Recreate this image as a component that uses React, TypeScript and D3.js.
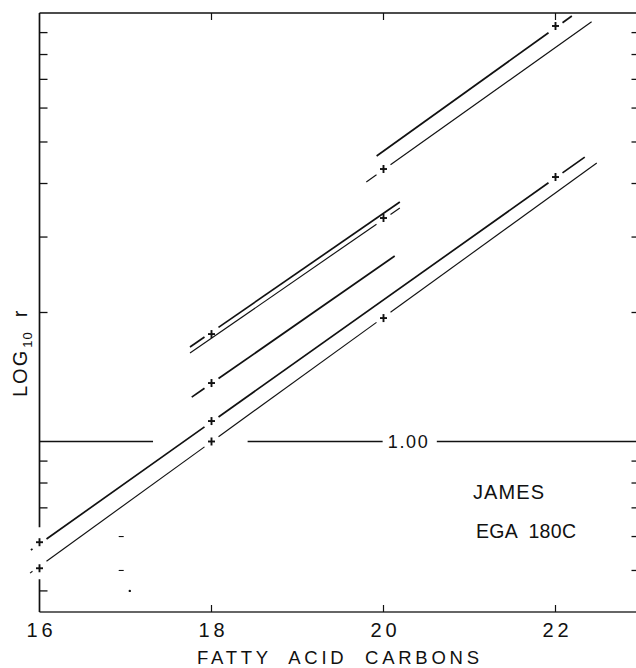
import React from "react";
import * as d3 from "d3";

// ---------- data ----------
const xTickValues = [16, 18, 20, 22];
const xTickLabels = ["16", "18", "20", "22"];
const xAxisTitle = "FATTY  ACID  CARBONS";
const yAxisTitleMain = "LOG";
const yAxisTitleSub = "10";
const yAxisTitleVar = "r";
const yTicksAbove = [2, 3, 4, 5, 6, 7, 8, 9];
const yTicksLeftBelow = [0.9, 0.8, 0.7, 0.448];
const yTicksRightBelow = [0.9, 0.8, 0.7, 0.6, 0.5];
const leftAxisGap = [0.477, 0.631];
const strayTickCarbon = 16.95;
const strayTickR = [0.6, 0.5];
const strayDot = [17.05, 0.448];
const refValue = 1.0;
const refLabel = "1.00";
const refLabelCarbon = 20.05;
const refSegments = [
  [16, 17.32],
  [18.42, 19.99],
  [20.62, 23],
];
const annotationLines = ["JAMES", "EGA  180C"];

// "+" data points
const pointCarbons = [16, 16, 18, 18, 18, 18, 20, 20, 20, 22, 22];
const pointR = [0.582, 0.506, 1.116, 1.0, 1.369, 1.781, 1.941, 3.323, 4.324, 4.142, 9.326];

// fitted lines (start / end in data units), with breaks where a "+" sits on them
const lineStartCarbons = [15.9, 15.89, 17.77, 17.75, 17.75, 19.92, 19.8];
const lineStartR = [0.558, 0.493, 1.269, 1.661, 1.608, 4.636, 4.033];
const lineEndCarbons = [22.34, 22.48, 20.13, 20.19, 20.19, 22.19, 22.42];
const lineEndR = [4.61, 4.467, 2.709, 3.622, 3.506, 9.84, 9.54];
const lineBreaksAt = [[16, 18, 22], [16, 18, 20], [18], [18], [20], [22], [20]];
const lineHeavy = [true, false, true, true, false, true, false];

// ---------- layout ----------
const W = 636;
const H = 668;
const FONT = "'Liberation Sans', Arial, sans-serif";
const INK = "#111";

export default function App() {
  const x = d3.scaleLinear().domain([16, 23]).range([39.5, 641.5]);
  const y = d3.scaleLog().domain([0.4, 10]).range([612, 13]);
  const [x0, x1] = x.range();
  const [yBot, yTop] = y.range();

  const segs: { a: [number, number]; b: [number, number]; heavy: boolean }[] = [];
  lineStartCarbons.forEach((c0, i) => {
    const px0 = x(c0);
    const py0 = y(lineStartR[i]);
    const px1 = x(lineEndCarbons[i]);
    const py1 = y(lineEndR[i]);
    const yAt = (px: number) => py0 + ((py1 - py0) * (px - px0)) / (px1 - px0);
    const cuts = lineBreaksAt[i].map((c) => x(c)).sort((a, b) => a - b);
    let start = px0;
    cuts.forEach((cx) => {
      const e = Math.max(start, cx - 7);
      if (e > start) segs.push({ a: [start, yAt(start)], b: [e, yAt(e)], heavy: lineHeavy[i] });
      start = Math.max(start, cx + 7);
    });
    if (px1 > start) segs.push({ a: [start, yAt(start)], b: [px1, yAt(px1)], heavy: lineHeavy[i] });
  });

  const tickLen = 8;
  const refY = y(refValue);

  return (
    <svg
      width={W}
      height={H}
      viewBox={`0 0 ${W} ${H}`}
      style={{ position: "absolute", left: 0, top: 0, background: "#fff" }}
    >
      <rect x={0} y={0} width={W} height={H} fill="#fff" />
      {/* frame */}
      <line x1={x0} x2={x1} y1={yTop} y2={yTop} stroke={INK} strokeWidth={1.5} />
      <line x1={x0} x2={x1} y1={yBot} y2={yBot} stroke="#333" strokeWidth={1.5} />
      <line x1={x0} x2={x0} y1={yTop} y2={y(leftAxisGap[1])} stroke={INK} strokeWidth={1.7} />
      <line x1={x0} x2={x0} y1={y(leftAxisGap[0])} y2={yBot} stroke={INK} strokeWidth={1.7} />

      {/* y ticks */}
      {[...yTicksAbove, ...yTicksLeftBelow].map((v, i) => (
        <line key={"yl" + i} x1={x0} x2={x0 + tickLen} y1={y(v)} y2={y(v)} stroke={INK} strokeWidth={1.3} />
      ))}
      {[...yTicksAbove, ...yTicksRightBelow].map((v, i) => (
        <line key={"yr" + i} x1={x1} x2={x1 - tickLen - 2} y1={y(v)} y2={y(v)} stroke={INK} strokeWidth={1.3} />
      ))}
      {strayTickR.map((v, i) => (
        <line key={"st" + i} x1={x(strayTickCarbon) - 2.5} x2={x(strayTickCarbon) + 2.5} y1={y(v)} y2={y(v)} stroke={INK} strokeWidth={1.1} />
      ))}
      <circle cx={x(strayDot[0])} cy={y(strayDot[1])} r={1.2} fill={INK} />

      {/* x ticks */}
      {xTickValues.slice(1).map((v, i) => (
        <g key={"xt" + i}>
          <line x1={x(v)} x2={x(v)} y1={yBot} y2={yBot - 7} stroke={INK} strokeWidth={1.2} />
          <line x1={x(v)} x2={x(v)} y1={yTop} y2={yTop + 7} stroke={INK} strokeWidth={1.2} />
        </g>
      ))}
      {xTickValues.map((v, i) => (
        <text
          key={"xl" + i}
          x={x(v) + 2}
          y={637}
          textAnchor="middle"
          fontFamily={FONT}
          fontSize={20}
          letterSpacing={4}
          fill={INK}
        >
          {xTickLabels[i]}
        </text>
      ))}
      <text
        x={197}
        y={664}
        fontFamily={FONT}
        fontSize={18.5}
        textLength={282}
        lengthAdjust="spacing"
        fill={INK}
        style={{ whiteSpace: "pre" }}
      >
        {xAxisTitle}
      </text>

      {/* y title */}
      <text
        transform="translate(27,397) rotate(-90)"
        fontFamily={FONT}
        fontSize={20}
        letterSpacing={2}
        fill={INK}
      >
        {yAxisTitleMain}
        <tspan dy={5} dx={1} fontSize={13} letterSpacing={1}>
          {yAxisTitleSub}
        </tspan>
        <tspan dy={-5} dx={14} fontSize={20}>
          {yAxisTitleVar}
        </tspan>
      </text>

      {/* reference 1.00 line */}
      {refSegments.map((s, i) => (
        <line key={"rf" + i} x1={x(s[0])} x2={x(s[1])} y1={refY} y2={refY} stroke={INK} strokeWidth={1.4} />
      ))}
      <text
        x={x(refLabelCarbon)}
        y={refY + 7}
        fontFamily={FONT}
        fontSize={18}
        textLength={40}
        lengthAdjust="spacing"
        fill={INK}
      >
        {refLabel}
      </text>

      {/* fitted lines */}
      {segs.map((s, i) => (
        <line
          key={"ln" + i}
          x1={s.a[0]}
          y1={s.a[1]}
          x2={s.b[0]}
          y2={s.b[1]}
          stroke={INK}
          strokeWidth={s.heavy ? 1.7 : 1.15}
        />
      ))}

      {/* + markers */}
      {pointCarbons.map((c, i) => {
        const px = x(c);
        const py = y(pointR[i]);
        return (
          <g key={"pt" + i} stroke={INK} strokeWidth={1.9}>
            <line x1={px - 3.5} x2={px + 3.5} y1={py} y2={py} />
            <line x1={px} x2={px} y1={py - 4} y2={py + 4} />
          </g>
        );
      })}

      {/* annotation */}
      <text x={473} y={499} fontFamily={FONT} fontSize={20} textLength={71} lengthAdjust="spacing" fill={INK}>
        {annotationLines[0]}
      </text>
      <text
        x={476}
        y={538}
        fontFamily={FONT}
        fontSize={19.5}
        textLength={100}
        lengthAdjust="spacing"
        fill={INK}
        style={{ whiteSpace: "pre" }}
      >
        {annotationLines[1]}
      </text>
    </svg>
  );
}
